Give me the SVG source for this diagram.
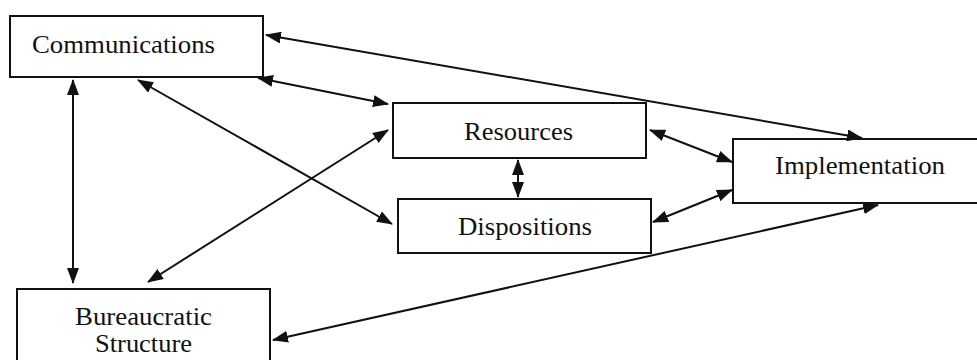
<svg xmlns="http://www.w3.org/2000/svg" width="977" height="360" viewBox="0 0 977 360">
<defs>
<style>
.box{fill:#fff;stroke:#111;stroke-width:2}
.lbl{font-family:"Liberation Serif","Times New Roman",serif;font-size:25px;fill:#111}
.con{stroke:#111;stroke-width:2;fill:none;marker-start:url(#ah);marker-end:url(#ah)}
</style>
<marker id="ah" markerUnits="userSpaceOnUse" markerWidth="16" markerHeight="12" refX="15" refY="6" orient="auto-start-reverse" viewBox="0 0 16 12">
<path d="M0,0 L16,6 L0,12 z" fill="#111"/>
</marker>
</defs>
<rect width="977" height="360" fill="#fff"/>
<g id="communications">
<rect class="box" x="10" y="16" width="253" height="61"/>
<text class="lbl" x="32" y="53" textLength="183" lengthAdjust="spacingAndGlyphs">Communications</text>
</g>
<g id="resources">
<rect class="box" x="393" y="103" width="253" height="55"/>
<text class="lbl" x="464" y="140" textLength="109" lengthAdjust="spacingAndGlyphs">Resources</text>
</g>
<g id="dispositions">
<rect class="box" x="398" y="199" width="253" height="54"/>
<text class="lbl" x="458" y="235" textLength="134" lengthAdjust="spacingAndGlyphs">Dispositions</text>
</g>
<g id="implementation">
<rect class="box" x="733" y="139" width="250" height="64"/>
<text class="lbl" x="775" y="174" textLength="170" lengthAdjust="spacingAndGlyphs">Implementation</text>
</g>
<g id="bureaucratic-structure">
<rect class="box" x="17" y="289" width="253" height="80"/>
<text class="lbl" x="75" y="325" textLength="137" lengthAdjust="spacingAndGlyphs">Bureaucratic</text>
<text class="lbl" x="95" y="352" textLength="97" lengthAdjust="spacingAndGlyphs">Structure</text>
</g>
<g id="connectors">
<line class="con" x1="266" y1="35" x2="862" y2="138"/>
<line class="con" x1="258" y1="78" x2="388" y2="104"/>
<line class="con" x1="138" y1="80" x2="392" y2="224"/>
<line class="con" x1="148" y1="282" x2="388" y2="130"/>
<line class="con" x1="73" y1="80" x2="73" y2="283"/>
<line class="con" x1="518" y1="160" x2="518" y2="197"/>
<line class="con" x1="650" y1="130" x2="732" y2="162"/>
<line class="con" x1="653" y1="222" x2="732" y2="190"/>
<line class="con" x1="273" y1="340" x2="878" y2="205"/>
</g>
</svg>
